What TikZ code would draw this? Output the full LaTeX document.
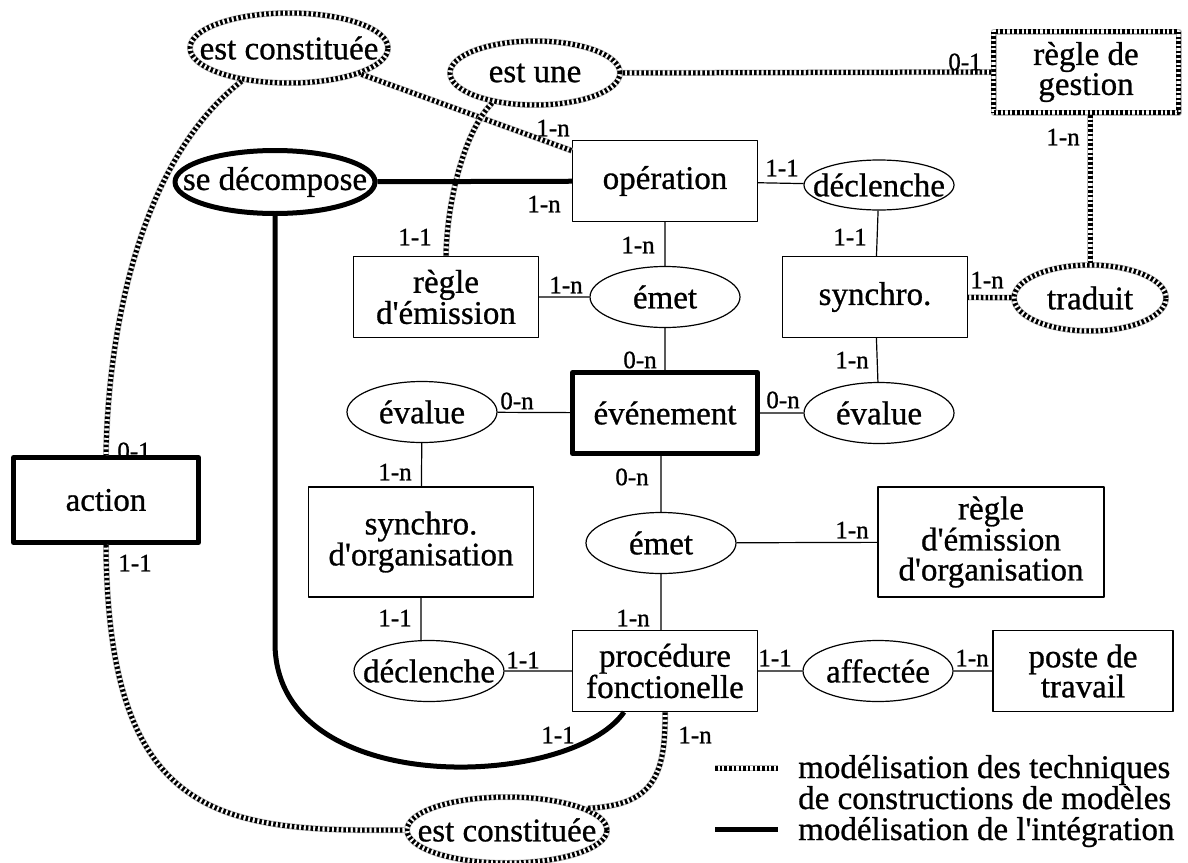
\documentclass[tikz,border=0pt]{standalone}
\usepackage{fontspec}
\setmainfont{Liberation Serif}[Ligatures=TeXOff,FakeBold=0.8]
\usetikzlibrary{shapes.geometric}
\begin{document}
\begin{tikzpicture}[x=1pt,y=-1pt,line join=round,
  font=\fontsize{33}{30}\selectfont,
  ent/.style={draw,rectangle,line width=1.2pt,minimum width=185pt,minimum height=81pt,inner sep=0pt,align=center},
  asso/.style={draw,ellipse,line width=1.2pt,minimum width=150pt,minimum height=61pt,inner xsep=-40pt,inner ysep=0pt},
  integ/.style={line width=5pt},
  hatch/.style={draw=black,line width=5pt,dash pattern=on 2.5pt off 2.2pt,
    preaction={draw=gray!55,line width=6pt,solid},preaction={draw=white,line width=3.6pt,solid}},
  card/.style={inner sep=0pt,font=\fontsize{25}{26}\selectfont}]
\useasboundingbox (0,0) rectangle (1188,862);
% entites et associations
\node[ent,hatch] (rg) at (1086,72) {règle de\\gestion};
\node[asso,hatch,minimum width=198pt,minimum height=70pt] (ec1) at (289,48) {est constituée};
\node[asso,hatch,minimum width=170pt,minimum height=64pt] (eu) at (535,73) {est une};
\node[asso,integ,minimum width=200pt,minimum height=63pt] (sd) at (275,182) {se décompose};
\node[ent] (op) at (665,181) {opération};
\node[asso,minimum height=50pt] (dec1) at (879,185) {déclenche};
\node[ent] (red) at (446,297) {règle\\d'émission};
\node[asso] (em1) at (665,297) {émet};
\node[ent] (syn) at (875,297) {synchro.};
\node[asso,hatch,minimum width=152pt,minimum height=66pt] (tr) at (1090,298) {traduit};
\node[ent,integ] (evt) at (665,413) {événement};
\node[asso] (ev2) at (879,413) {évalue};
\node[asso] (ev1) at (422,412) {évalue};
\node[ent,integ,minimum height=85pt] (act) at (106,500) {action};
\node[ent,minimum width=225pt,minimum height=110pt] (sorg) at (421,542) {synchro.\\d'organisation};
\node[asso] (em2) at (661,543) {émet};
\node[ent,minimum width=226pt,minimum height=110pt] (reo) at (991,542) {règle\\d'émission\\d'organisation};
\node[asso] (dec2) at (429,671) {déclenche};
\node[ent] (proc) at (665,671) {procédure\\fonctionelle};
\node[asso] (aff) at (878,671) {affectée};
\node[ent,minimum width=180pt] (poste) at (1083,671) {poste de\\travail};
\node[asso,hatch,minimum width=200pt,minimum height=66pt] (ec2) at (507,830) {est constituée};
% liens simples
\draw[line width=1.2pt] (op)--(dec1) (op)--(em1) (red)--(em1) (em1)--(evt) (dec1)--(syn)
  (syn)--(ev2) (evt)--(ev2) (ev1)--(evt) (ev1)--(sorg) (evt.south -| em2)--(em2)
  (em2)--(reo) (em2)--(em2 |- proc.north) (sorg)--(sorg |- dec2.north) (dec2)--(proc)
  (proc)--(aff) (aff)--(poste);
% liens techniques
\draw[hatch] (ec1)--(op.162);
\draw[hatch] (ec1.215) .. controls (140,160) and (108,330) .. (act.north);
\draw[hatch] (act.south) .. controls (108,820) and (220,832) .. (ec2.west);
\draw[hatch] (ec2.15) .. controls (650,805) and (666,780) .. (proc.south);
\draw[hatch] (eu.east)--(rg.west);
\draw[hatch] (eu.215) .. controls (465,130) and (447,200) .. (red.north);
\draw[hatch] (rg.south -| tr)--(tr);
\draw[hatch] (tr)--(syn);
% liens integration
\draw[integ] (sd)--(op);
\draw[integ] (sd.south)--++(0,427) .. controls (275,800) and (570,790) .. ([xshift=-41pt]proc.south);
% cardinalites
\foreach \x/\y/\t [count=\i] in {553/128/1-n,965/62/0-1,1063/137/1-n,987/280/1-n,134/451/0-1,
  135/563/1-1,544/204/1-n,415/237/1-1,638/245/1-n,566/285/1-n,782/168/1-1,850/237/1-1,
  640/360/0-n,852/360/1-n,783/400/0-n,517/401/0-n,395/472/1-n,632/477/0-n,395/618/1-1,
  633/618/1-n,852/530/1-n,523/660/1-1,775/658/1-1,972/658/1-n,558/735/1-1,695/735/1-n}
  \node[card] (k\i) at (\x,\y) {\t};
% legende
\coordinate (la) at (715,768); \coordinate (lb) at (778,768);
\coordinate (lc) at (715,829); \coordinate (ld) at (778,829);
\draw[hatch] (la)--(lb);
\draw[integ] (lc)--(ld);
\node[anchor=base west,inner sep=0pt] (t1) at (798,778) {modélisation des techniques};
\node[anchor=base west,inner sep=0pt] (t2) at (798,809) {de constructions de modèles};
\node[anchor=base west,inner sep=0pt] (t3) at (798,840) {modélisation de l'intégration};
\end{tikzpicture}
\end{document}
